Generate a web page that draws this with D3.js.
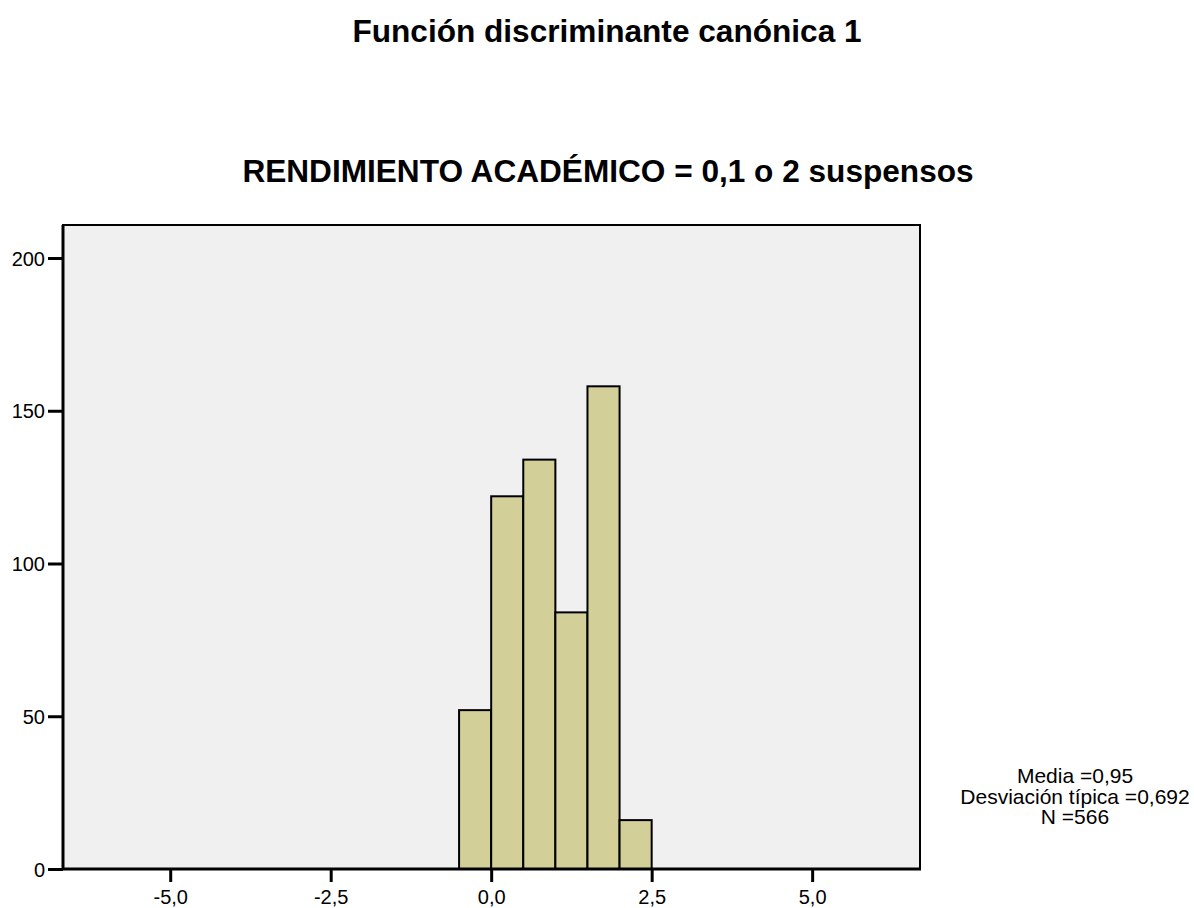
<!DOCTYPE html>
<html>
<head>
<meta charset="utf-8">
<script src="https://cdn.jsdelivr.net/npm/d3@7"></script>
<style>
  html, body { margin: 0; padding: 0; background: #ffffff; }
  svg { display: block; font-family: "Liberation Sans", Arial, sans-serif; }
</style>
</head>
<body>
<svg id="chart" width="1194" height="908"></svg>
<script>
// Histogram bins (lower edge, upper edge) and counts
const binStart = [-0.5, 0.0, 0.5, 1.0, 1.5, 2.0];
const binEnd   = [ 0.0, 0.5, 1.0, 1.5, 2.0, 2.5];
const counts   = [52, 122, 134, 84, 158, 16];

const xTicks = [-5.0, -2.5, 0.0, 2.5, 5.0];
const yTicks = [0, 50, 100, 150, 200];

const titleText = "Función discriminante canónica 1";
const subtitleText = "RENDIMIENTO ACADÉMICO = 0,1 o 2 suspensos";
const statsLines = ["Media =0,95", "Desviación típica =0,692", "N =566"];

const svg = d3.select("#chart");
const plot = { left: 63, right: 920, top: 225, bottom: 869 };

const x = d3.scaleLinear().domain([-6.67, 6.68]).range([plot.left, plot.right]);
const y = d3.scaleLinear().domain([0, 200]).range([plot.bottom, 258]);

// Plot background and frame
svg.append("rect")
  .attr("x", plot.left).attr("y", plot.top)
  .attr("width", plot.right - plot.left).attr("height", plot.bottom - plot.top)
  .attr("fill", "#f0f0f0")
  .attr("stroke", "#000").attr("stroke-width", 2);

// Bars
const bins = counts.map((c, i) => ({ x0: binStart[i], x1: binEnd[i], n: c }));
svg.append("g").selectAll("rect")
  .data(bins)
  .join("rect")
  .attr("x", d => x(d.x0))
  .attr("y", d => y(d.n))
  .attr("width", d => x(d.x1) - x(d.x0))
  .attr("height", d => y(0) - y(d.n))
  .attr("fill", "#d3cf98")
  .attr("stroke", "#000")
  .attr("stroke-width", 2);

const fmt = v => d3.format(".1f")(v).replace(".", ",").replace("−", "-");

// X axis
const xAxis = svg.append("g")
  .attr("transform", `translate(0,${plot.bottom})`)
  .call(d3.axisBottom(x).tickValues(xTicks).tickFormat(fmt).tickSize(13).tickSizeOuter(0));
xAxis.select(".domain").remove();
xAxis.selectAll(".tick line").attr("stroke", "#000").attr("stroke-width", 3);
xAxis.selectAll(".tick text")
  .attr("font-size", 20).attr("fill", "#000")
  .attr("dy", null).attr("y", 35);

// Y axis
const yAxis = svg.append("g")
  .attr("transform", `translate(${plot.left},0)`)
  .call(d3.axisLeft(y).tickValues(yTicks).tickFormat(d3.format("d")).tickSize(15).tickSizeOuter(0));
yAxis.select(".domain").remove();
yAxis.selectAll(".tick line").attr("stroke", "#000").attr("stroke-width", 3);
yAxis.selectAll(".tick text")
  .attr("font-size", 20).attr("fill", "#000").attr("x", -18).attr("dy", "0.35em");

// Bottom and left axis lines drawn over the frame
svg.append("line")
  .attr("x1", plot.left - 1).attr("x2", plot.right + 1)
  .attr("y1", plot.bottom).attr("y2", plot.bottom)
  .attr("stroke", "#000").attr("stroke-width", 3);
svg.append("line")
  .attr("x1", plot.left).attr("x2", plot.left)
  .attr("y1", plot.top).attr("y2", plot.bottom)
  .attr("stroke", "#000").attr("stroke-width", 3);

// Titles
svg.append("text")
  .attr("x", 607).attr("y", 42)
  .attr("text-anchor", "middle")
  .attr("font-size", 31.6).attr("font-weight", "bold")
  .text(titleText);
svg.append("text")
  .attr("x", 608).attr("y", 182)
  .attr("text-anchor", "middle")
  .attr("font-size", 31.6).attr("font-weight", "bold")
  .text(subtitleText);

// Summary statistics
svg.append("g").selectAll("text")
  .data(statsLines)
  .join("text")
  .attr("x", 1075)
  .attr("y", (d, i) => 783 + i * 20.5)
  .attr("text-anchor", "middle")
  .attr("font-size", 21)
  .text(d => d);
</script>
</body>
</html>
